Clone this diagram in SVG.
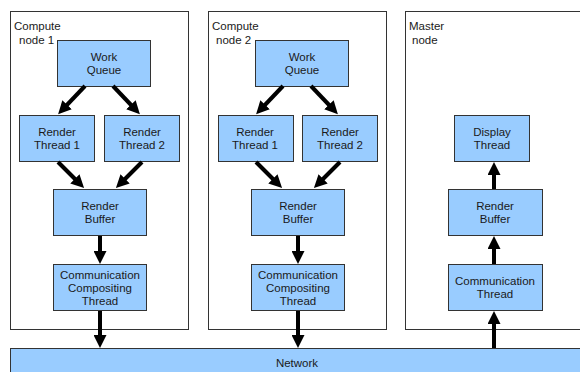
<svg xmlns="http://www.w3.org/2000/svg" width="580" height="372" viewBox="0 0 580 372">
<defs>
<style>
.container{fill:#ffffff;stroke:#333333;stroke-width:1}
.box{fill:#99ccff;stroke:#333333;stroke-width:1}
text{font-family:"Liberation Sans",Arial,sans-serif;font-size:11.5px;fill:#1a1a1a}
.c{text-anchor:middle}
.arrow{stroke:#000000;stroke-width:4;fill:none;marker-end:url(#ah)}
</style>
<marker id="ah" markerUnits="userSpaceOnUse" markerWidth="14" markerHeight="13" viewBox="0 0 14 13" refX="3" refY="6.5" orient="auto">
<path d="M0,0 L13,6.5 L0,13 z" fill="#000000"/>
</marker>
</defs>
<rect width="580" height="372" fill="#ffffff"/>

<g id="compute-node-1">
<rect class="container" x="10.5" y="11.5" width="178" height="318"/>
<text x="14" y="30">Compute</text>
<text x="19" y="44">node 1</text>
</g>
<g id="compute-node-2">
<rect class="container" x="208.5" y="11.5" width="178" height="318"/>
<text x="212" y="30">Compute</text>
<text x="216" y="44">node 2</text>
</g>
<g id="master-node">
<rect class="container" x="405.5" y="11.5" width="180" height="318"/>
<text x="409" y="30">Master</text>
<text x="412" y="44">node</text>
</g>

<g id="n1-work-queue"><rect class="box" x="57.5" y="40.5" width="93" height="46"/><text class="c" x="104" y="61">Work</text><text class="c" x="104" y="74">Queue</text></g>
<g id="n1-render-thread-1"><rect class="box" x="19.5" y="115.5" width="75" height="46"/><text class="c" x="57" y="136">Render</text><text class="c" x="57" y="149">Thread 1</text></g>
<g id="n1-render-thread-2"><rect class="box" x="104.5" y="115.5" width="75" height="46"/><text class="c" x="142" y="136">Render</text><text class="c" x="142" y="149">Thread 2</text></g>
<g id="n1-render-buffer"><rect class="box" x="53.5" y="189.5" width="93" height="46"/><text class="c" x="100" y="210">Render</text><text class="c" x="100" y="223">Buffer</text></g>
<g id="n1-comm-compositing"><rect class="box" x="53.5" y="264.5" width="93" height="46"/><text class="c" x="100" y="279">Communication</text><text class="c" x="100" y="292">Compositing</text><text class="c" x="100" y="305">Thread</text></g>

<g id="n2-work-queue"><rect class="box" x="255.5" y="40.5" width="93" height="46"/><text class="c" x="302" y="61">Work</text><text class="c" x="302" y="74">Queue</text></g>
<g id="n2-render-thread-1"><rect class="box" x="218.5" y="115.5" width="75" height="46"/><text class="c" x="255" y="136">Render</text><text class="c" x="255" y="149">Thread 1</text></g>
<g id="n2-render-thread-2"><rect class="box" x="302.5" y="115.5" width="75" height="46"/><text class="c" x="340" y="136">Render</text><text class="c" x="340" y="149">Thread 2</text></g>
<g id="n2-render-buffer"><rect class="box" x="251.5" y="189.5" width="93" height="46"/><text class="c" x="298" y="210">Render</text><text class="c" x="298" y="223">Buffer</text></g>
<g id="n2-comm-compositing"><rect class="box" x="251.5" y="264.5" width="93" height="46"/><text class="c" x="298" y="279">Communication</text><text class="c" x="298" y="292">Compositing</text><text class="c" x="298" y="305">Thread</text></g>

<g id="m-display-thread"><rect class="box" x="454.5" y="115.5" width="75" height="46"/><text class="c" x="492" y="136">Display</text><text class="c" x="492" y="149">Thread</text></g>
<g id="m-render-buffer"><rect class="box" x="448.5" y="189.5" width="94" height="46"/><text class="c" x="495" y="210">Render</text><text class="c" x="495" y="223">Buffer</text></g>
<g id="m-comm-thread"><rect class="box" x="448.5" y="264.5" width="94" height="46"/><text class="c" x="495" y="285">Communication</text><text class="c" x="495" y="298">Thread</text></g>

<g id="network"><rect class="box" x="10.5" y="348.5" width="575" height="30"/><text class="c" x="297" y="367">Network</text></g>

<g id="connectors">
<line class="arrow" x1="85" y1="86" x2="65" y2="107"/>
<line class="arrow" x1="113" y1="86" x2="133" y2="107"/>
<line class="arrow" x1="58" y1="162" x2="77" y2="181"/>
<line class="arrow" x1="142" y1="162" x2="123" y2="181"/>
<line class="arrow" x1="100" y1="236" x2="100" y2="254"/>
<line class="arrow" x1="100" y1="311" x2="100" y2="338"/>

<line class="arrow" x1="283" y1="86" x2="263" y2="107"/>
<line class="arrow" x1="311" y1="86" x2="331" y2="107"/>
<line class="arrow" x1="256" y1="162" x2="275" y2="181"/>
<line class="arrow" x1="340" y1="162" x2="321" y2="181"/>
<line class="arrow" x1="298" y1="236" x2="298" y2="254"/>
<line class="arrow" x1="298" y1="311" x2="298" y2="338"/>

<line class="arrow" x1="494" y1="348" x2="494" y2="321"/>
<line class="arrow" x1="494" y1="264" x2="494" y2="246"/>
<line class="arrow" x1="494" y1="189" x2="494" y2="172"/>
</g>
</svg>
